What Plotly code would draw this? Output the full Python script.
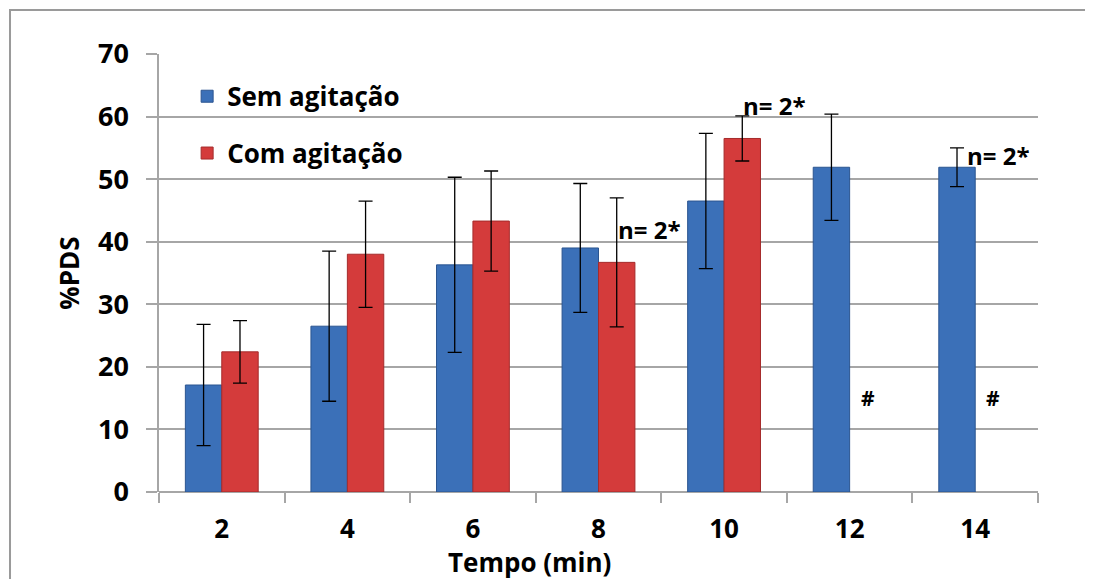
import plotly.graph_objects as go

categories = ["2", "4", "6", "8", "10", "12", "14"]
sem_values = [17.1, 26.5, 36.3, 39.0, 46.5, 51.9, 51.9]
sem_err = [9.7, 12.0, 14.0, 10.3, 10.8, 8.5, 3.1]
com_values = [22.4, 38.0, 43.3, 36.7, 56.5, None, None]
com_err = [5.0, 8.5, 8.0, 10.3, 3.6, None, None]
y_ticks = [0, 10, 20, 30, 40, 50, 60, 70]

positions = list(range(len(categories)))
boundaries = [p - 0.5 for p in positions] + [positions[-1] + 0.5]

FONT = "Open Sans"
BLUE = "#3B70B8"
RED = "#D43B3B"
GRID = "#A6A6A6"

fig = go.Figure()
fig.add_trace(go.Bar(
    x=positions, y=sem_values, name="Sem agitação",
    marker=dict(color=BLUE, line=dict(color="#2B5590", width=1)),
    error_y=dict(type="data", array=sem_err, color="black", thickness=1.3, width=7),
    legendgroup="a",
))
fig.add_trace(go.Bar(
    x=positions, y=com_values, name="Com agitação",
    marker=dict(color=RED, line=dict(color="#A52B2B", width=1)),
    error_y=dict(type="data", array=com_err, color="black", thickness=1.3, width=7),
    legendgroup="b",
))

ann_font = dict(family=FONT, size=24, color="black", weight="bold")
notes = [
    dict(cat="8", y=41.9, text="n= 2*", xshift=17),
    dict(cat="10", y=61.8, text="n= 2*", xshift=17),
    dict(cat="14", y=53.8, text="n= 2*", xshift=-10),
]
for n in notes:
    fig.add_annotation(x=categories.index(n["cat"]), y=n["y"], text=n["text"],
                       xref="x", yref="y", xshift=n["xshift"],
                       xanchor="left", yanchor="middle", showarrow=False, font=ann_font)
for c in ["12", "14"]:
    fig.add_annotation(x=categories.index(c), y=15, text="#", xref="x", yref="y",
                       xshift=18, showarrow=False,
                       font=dict(family=FONT, size=21, color="black", weight="bold"))

# x-axis title (placed left of centre, as in the original)
fig.add_annotation(x=0.422, y=-0.16, xref="paper", yref="paper", text="Tempo (min)",
                   showarrow=False, xanchor="center", yanchor="middle",
                   font=dict(family=FONT, size=26, color="black", weight="bold"))

# outer chart border
fig.add_shape(type="rect", xref="paper", yref="paper",
              x0=-0.1695, x1=1.08, y0=-0.3, y1=1.1005,
              line=dict(color="#9A9A9A", width=2), fillcolor="rgba(0,0,0,0)", layer="below")

fig.update_layout(
    width=1085, height=571,
    margin=dict(l=151, r=55, t=46, b=87),
    paper_bgcolor="white", plot_bgcolor="white",
    barmode="group", bargap=0.42, bargroupgap=0,
    font=dict(family=FONT, color="black"),
    legend=dict(x=0.032, y=0.957, xanchor="left", yanchor="top",
                font=dict(family=FONT, size=26, color="black", weight="bold"),
                bgcolor="rgba(0,0,0,0)", tracegroupgap=20, traceorder="grouped"),
    xaxis=dict(
        tickmode="array", tickvals=positions, ticktext=categories, ticks="",
        showgrid=False, showline=False, zeroline=False,
        minor=dict(tickmode="array", tickvals=boundaries, ticks="outside", ticklen=10,
                   tickcolor=GRID, tickwidth=1.5, showgrid=False),
        tickfont=dict(family=FONT, size=26, color="black", weight="bold"),
        ticklabelstandoff=19,
        range=[-0.5, 6.5],
    ),
    yaxis=dict(
        range=[0, 70], tickvals=y_ticks, ticks="outside", ticklen=11,
        tickcolor=GRID, tickwidth=1.5, showgrid=True, gridcolor=GRID, gridwidth=1.5,
        showline=True, linecolor=GRID, linewidth=1.5, zeroline=True,
        zerolinecolor=GRID, zerolinewidth=1.5,
        tickfont=dict(family=FONT, size=27, color="black", weight="bold"),
        ticklabelstandoff=12,
        title=dict(text="%PDS", standoff=11,
                   font=dict(family=FONT, size=26, color="black", weight="bold")),
    ),
)

fig.write_html("out.html")
